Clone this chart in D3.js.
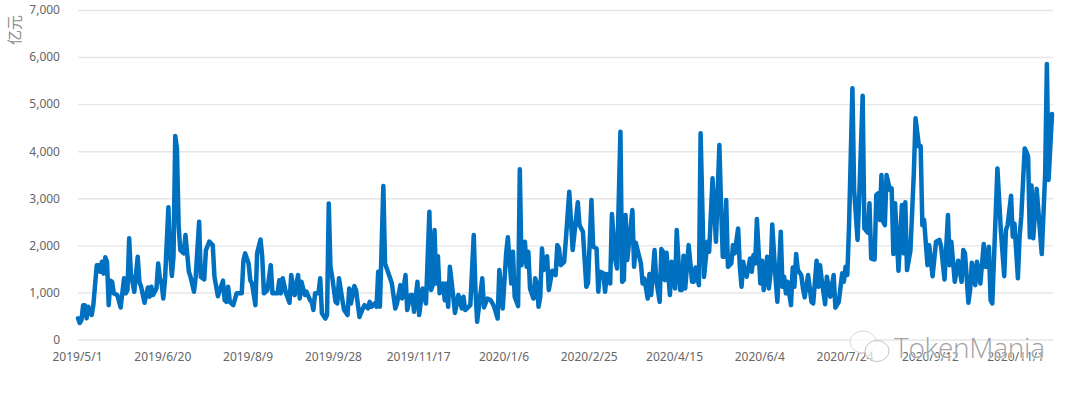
<!DOCTYPE html>
<html>
<head>
<meta charset="utf-8">
<script src="https://cdn.jsdelivr.net/npm/d3@7"></script>
<style>
  html, body { margin: 0; background: #fff; }
  svg { display: block; }
</style>
</head>
<body>
<div id="chart-container"></div>
<script>
// days since 2019/5/1
const days = [
  0,1,2,3,4,5,6,8,9,11,12,13,14,15,16,17,18,19,20,21,23,25,27,28,29,30,31,33,35,36,37,39,40,41,42,43,44,46,47,48,49,50,51,53,54,55,56,57,58,59,60,62,63,64,65,66,68,69,71,72,74,75,77,79,80,82,85,86,87,88,89,91,93,96,97,98,100,101,102,104,105,107,108,109,111,113,114,117,118,119,120,122,124,125,127,129,130,131,133,134,136,137,138,139,141,142,143,145,146,147,148,149,151,152,153,155,156,158,159,160,162,163,165,
  167,168,170,171,172,174,175,176,177,179,180,183,184,186,187,189,190,192,193,195,196,197,199,200,202,204,206,207,208,209,210,211,212,214,215,216,217,218,220,221,223,225,226,227,230,232,233,234,237,238,240,242,244,246,247,249,251,252,254,255,256,258,259,260,262,263,264,265,267,268,269,270,271,272,273,275,276,278,280,281,282,283,285,286,288,290,293,294,296,298,299,301,302,304,305,306,308,309,310,312,313,315,316,318,319,320,321,322,325,326,327,330,331,332,334,335,336,338,339,341,342,343,344,345,347,348,350,351,353,354,355,356,358,360,361,362,364,365,367,369,370,372,374,376,
  377,378,379,380,381,383,384,385,387,388,389,390,391,392,394,395,396,397,398,400,401,402,404,405,406,407,409,410,412,413,414,415,416,418,419,420,421,422,424,425,426,428,430,431,433,434,435,436,438,439,441,443,444,446,448,449,450,451,452,454,455,457,458,460,461,463,464,465,467,468,469,470,471,472,473,474,476,477,478,479,481,483,484,485,486,488,490,491,493,494,495,496,498,499,501,503,505,506,508,510,511,512,514,516,518,519,520,522,523,524,526,527,529,531,532,533,534,535,536,539,541,543,544,545,547,548,549,551,552,553,555,556,557,558,559,560,562,565,567,568,569,571
];

// 亿元
const volume = [
  450,350,410,730,730,450,695,520,730,1580,1580,1440,1650,1400,1745,1650,730,1250,1225,980,945,680,1300,980,1050,2150,1400,1015,1760,1225,1120,780,945,1105,910,1120,945,1085,1615,1300,1190,870,1260,2810,1830,1350,1760,4325,4060,2400,1900,1830,2220,1830,1440,1330,1015,1330,2500,1330,1275,1900,2080,2005,1330,920,1250,835,800,1120,800,730,980,980,1690,1830,1615,1260,1190,730,1830,2125,1760,980,1050,1580,980,980,1260,980,1300,980,780,1370,945,1370,870,1225,945,1015,835,800,625,980,980,1300,555,445,520,2890,1545,1330,800,765,1300,835,625,520,1085,765,1135,1050,480,
  660,730,660,800,695,765,695,1440,695,3260,1615,1300,1190,660,765,1155,870,1370,625,945,945,590,1225,520,1085,765,2715,1050,1155,2325,1190,1770,980,1190,835,1190,695,1545,910,565,945,660,910,625,730,2220,1050,375,1300,680,870,835,695,445,1475,660,1830,2170,1190,1865,910,710,3615,1580,2075,1545,1865,1085,870,1300,1190,695,910,1935,1475,1770,1050,1460,1370,2005,1935,1580,1650,2115,3140,1900,2915,2430,2290,1120,1205,2965,1970,1935,1015,1440,1405,1015,1390,1190,2665,1690,1510,4415,1225,1260,2645,1690,2750,1545,2055,1615,1190,1300,870,1390,945,1900,1260,800,1920,1865,1260,1845,945,1650,1085,2325,1050,1050,1780,1085,2005,1225,1225,1530,1155,4380,1330,2075,1865,3425,2075,4130,
  2820,1760,1760,2965,1545,1615,2005,1830,2360,1545,1120,1650,1405,1335,1720,1440,1795,1615,2560,1190,1675,1050,1760,1085,1405,2445,1260,800,2290,1120,1335,980,1225,730,1530,1120,1815,1475,1370,1085,895,1370,800,765,1675,1120,1580,1260,750,1335,910,1370,675,800,1405,1225,1545,1370,2395,5340,3175,2115,3035,5180,2360,2270,2895,1720,1700,3070,3105,2540,3495,2505,2430,3495,3175,3210,1815,2895,1460,2855,1830,2915,1475,1885,3530,4700,4100,4110,2430,2540,1580,2005,1345,2075,2115,1970,1275,2645,1580,2075,1225,1675,1225,1900,1830,780,1050,1630,1155,1650,1190,2030,1545,1545,1970,835,765,3635,2325,1345,2325,2430,3055,2185,2465,1300,2185,2610,4060,3990,3885,2170,3270,2150,3200,1815,3530,5855,3390,4790
];

const tickDays = [0, 50, 100, 150, 200, 250, 300, 350, 400, 450, 500, 550];
const tickLabels = ["2019/5/1", "2019/6/20", "2019/8/9", "2019/9/28", "2019/11/17", "2020/1/6", "2020/2/25", "2020/4/15", "2020/6/4", "2020/7/24", "2020/9/12", "2020/11/1"];
const yTicks = [0, 1000, 2000, 3000, 4000, 5000, 6000, 7000];

const width = 1080;
const height = 393;
const margin = { top: 10, right: 27, bottom: 53.5, left: 78 };
const innerW = width - margin.left - margin.right;
const innerH = height - margin.top - margin.bottom;
const font = "'Noto Sans', sans-serif";

const svg = d3.select("#chart-container")
    .append("svg")
    .attr("width", width)
    .attr("height", height)
    .style("background", "#fff");

const g = svg.append("g")
    .attr("transform", `translate(${margin.left},${margin.top})`);

const xScale = d3.scaleLinear()
    .domain([0, 571])
    .range([0, 974]);

const yScale = d3.scaleLinear()
    .domain([0, 7000])
    .range([innerH, 0]);

// Y axis + gridlines
const yAxis = g.append("g")
    .call(d3.axisLeft(yScale).tickValues(yTicks).tickFormat(d3.format(",")).tickSize(-innerW).tickPadding(18));
yAxis.select(".domain").remove();
yAxis.selectAll(".tick line").attr("stroke", "#e6e6e8").attr("stroke-width", 1.4);
yAxis.selectAll("text")
    .attr("fill", "#666")
    .style("font-family", font)
    .style("font-size", "12px");

// X axis
const xAxis = g.append("g")
    .attr("transform", `translate(0,${innerH})`)
    .call(d3.axisBottom(xScale).tickValues(tickDays).tickFormat((d, i) => tickLabels[i]).tickSize(0).tickPadding(13));
xAxis.select(".domain").remove();
xAxis.selectAll("text")
    .attr("fill", "#666")
    .attr("dx", -1)
    .style("font-family", font)
    .style("font-size", "12px");

// the line
const line = d3.line()
    .x((d, i) => xScale(days[i]))
    .y(d => yScale(d));

g.append("path")
    .datum(volume)
    .attr("fill", "none")
    .attr("stroke", "#0070c0")
    .attr("stroke-width", 4.5)
    .attr("stroke-linejoin", "round")
    .attr("stroke-linecap", "round")
    .attr("d", line);

// unit label
svg.append("text")
    .attr("transform", "translate(20,30) rotate(-90)")
    .attr("text-anchor", "middle")
    .attr("fill", "#8a8a8a")
    .style("font-family", "'Noto Sans CJK SC', sans-serif")
    .style("font-size", "15px")
    .text("亿元");

// watermark, sits on top of the axis labels
const mark = svg.append("g");
const bubbles = mark.append("g")
    .attr("fill", "#fff")
    .attr("fill-opacity", 0.7);
bubbles.append("ellipse").attr("cx", 863).attr("cy", 342).attr("rx", 13).attr("ry", 11)
    .attr("stroke", "#d8d8d8");
bubbles.append("ellipse").attr("cx", 877).attr("cy", 351).attr("rx", 12).attr("ry", 10.5)
    .attr("stroke", "#c4c4c4");
mark.append("text")
    .attr("x", 894).attr("y", 358)
    .attr("fill", "#a2a2a2")
    .attr("stroke", "#fff")
    .attr("stroke-opacity", 0.55)
    .attr("stroke-width", 2)
    .attr("paint-order", "stroke")
    .style("font-family", "'Open Sans', sans-serif")
    .style("font-weight", 300)
    .style("font-size", "28px")
    .attr("textLength", 151)
    .text("TokenMania");
</script>
</body>
</html>
